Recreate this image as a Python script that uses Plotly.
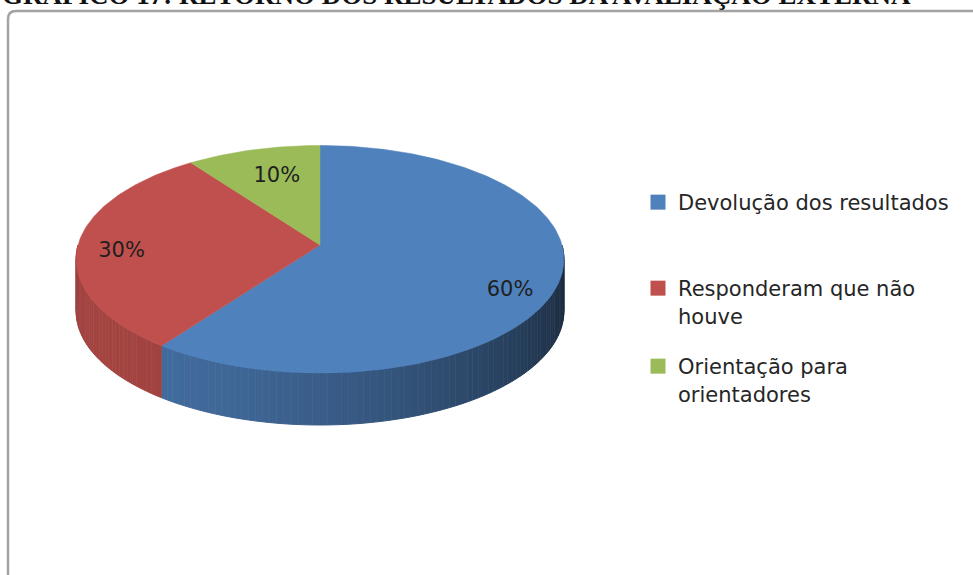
import textwrap
import numpy as np
import plotly.graph_objects as go

# ---- data -----------------------------------------------------------------
categories = ["Devolução dos resultados", "Responderam que não houve", "Orientação para orientadores"]
values = [60, 30, 10]
colors = ["#4F81BD", "#C0504D", "#9BBB59"]
title_text = "GRÁFICO 17: RETORNO DOS RESULTADOS DA AVALIAÇÃO EXTERNA"

# ---- 3-D pie geometry (pixel-like data units, y grows downwards) ----------
W, H = 973, 575
CX, CY = 320, 245          # projected pie centre
RX, RY = 242, 112          # horizontal / vertical radius of the top face
PERSP = 0.125              # perspective foreshortening of the far half
DEPTH = 52                 # thickness of the pie
LABEL_R = [0.80, 0.82, 0.62]     # radial position of each percentage label
LABEL_DROP = [17, 7, -7]         # vertical nudge of each label
FONT = "DejaVu Sans"


def project(theta_deg, r=1.0, drop=0.0):
    """Clockwise angle from 12 o'clock on the pie's top face -> screen point."""
    t = np.radians(theta_deg)
    u = r * np.sin(t)
    v = -r * np.cos(t)
    den = 1 - PERSP * v
    return CX + RX * u / den, CY + RY * v / den + drop


def hex_rgb(h):
    h = h.lstrip("#")
    return tuple(int(h[i:i + 2], 16) for i in (0, 2, 4))


def side_shade(base, theta):
    """Light coming from the front-left: darker towards the right edge."""
    f = 0.55 + 0.30 * np.cos(np.radians(theta - 235))
    r, g, b = (int(round(c * f)) for c in hex_rgb(base))
    return f"rgb({r},{g},{b})"


total = float(sum(values))
bounds = np.concatenate([[0.0], np.cumsum(values) / total * 360.0])

fig = go.Figure()

# side walls (only the front half, 90..270 degrees, faces the viewer)
for i, col in enumerate(colors):
    a0, a1 = max(bounds[i], 90.0), min(bounds[i + 1], 270.0)
    if a1 <= a0:
        continue
    n = max(2, int(np.ceil((a1 - a0) / 1.5)))
    edges = np.linspace(a0, a1, n + 1)
    for s0, s1 in zip(edges[:-1], edges[1:]):
        arc = np.linspace(s0, s1, 4)
        tx, ty = project(arc)
        bx, by = project(arc[::-1], drop=DEPTH)
        c = side_shade(col, 0.5 * (s0 + s1))
        fig.add_trace(go.Scatter(
            x=np.concatenate([tx, bx]), y=np.concatenate([ty, by]),
            mode="lines", fill="toself", fillcolor=c,
            line=dict(color=c, width=1), hoverinfo="skip", showlegend=False))

# top faces
for i, (cat, col) in enumerate(zip(categories, colors)):
    arc = np.linspace(bounds[i], bounds[i + 1], max(3, int(bounds[i + 1] - bounds[i]) + 1))
    ax, ay = project(arc)
    fig.add_trace(go.Scatter(
        x=np.concatenate([[CX], ax, [CX]]), y=np.concatenate([[CY], ay, [CY]]),
        mode="lines", fill="toself", fillcolor=col, line=dict(color=col, width=0.5),
        name=cat, hovertemplate=f"{cat}: {values[i]}%<extra></extra>", showlegend=False))

# percentage labels
for i, v in enumerate(values):
    mid = 0.5 * (bounds[i] + bounds[i + 1])
    lx, ly = project(mid, r=LABEL_R[i], drop=LABEL_DROP[i])
    fig.add_trace(go.Scatter(
        x=[lx], y=[ly], mode="text", text=[f"{v / total * 100:.0f}%"],
        textfont=dict(family=FONT, size=21, color="#1f1f1f"),
        hoverinfo="skip", showlegend=False))

# legend entries, one legend box per category
legend_ids = ["legend", "legend2", "legend3"]
for cat, col, lid in zip(categories, colors, legend_ids):
    fig.add_trace(go.Scatter(
        x=[None], y=[None], mode="markers",
        marker=dict(symbol="square", size=15, color=col),
        name="<br>".join(textwrap.wrap(cat, 24)), legend=lid, hoverinfo="skip"))

legend_style = dict(xanchor="left", yanchor="top", valign="top",
                    bgcolor="rgba(0,0,0,0)", borderwidth=0,
                    font=dict(family=FONT, size=21, color="#262626"),
                    itemclick=False, itemdoubleclick=False)
legend_tops = [182, 268, 346]
legend_left = 638

# chart-area frame with rounded top-left corner
frame = f"M 8,{H + 5} L 8,19 Q 8,11 16,11 L {W + 5},11"

fig.update_layout(
    width=W, height=H,
    margin=dict(l=0, r=0, t=0, b=0),
    paper_bgcolor="white", plot_bgcolor="white",
    xaxis=dict(range=[0, W], visible=False, fixedrange=True),
    yaxis=dict(range=[H, 0], visible=False, fixedrange=True),
    shapes=[dict(type="path", path=frame, xref="x", yref="y",
                 line=dict(color="#a3a3a3", width=2.5), layer="below")],
    annotations=[dict(text=f"<b>{title_text}</b>", x=0, y=1 + 5 / H,
                      xref="paper", yref="paper", xanchor="left", yanchor="middle",
                      showarrow=False,
                      font=dict(family="Liberation Serif", size=27, color="#111111"))],
    **{lid: dict(legend_style, x=legend_left / W, y=1 - top / H)
       for lid, top in zip(legend_ids, legend_tops)},
)

fig.write_html("out.html")
